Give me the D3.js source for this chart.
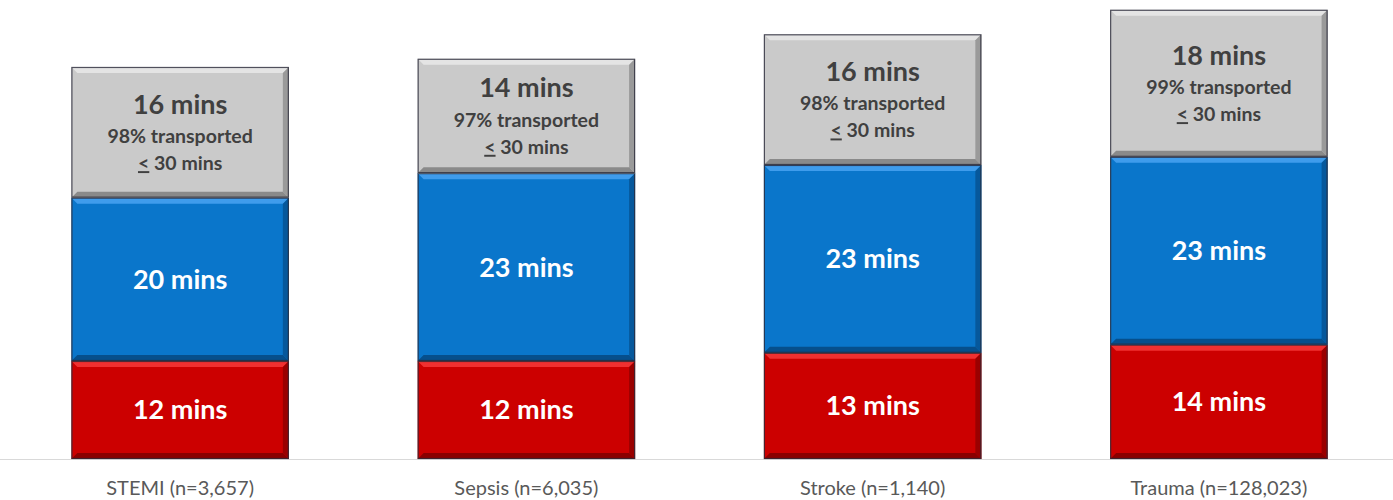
<!DOCTYPE html>
<html>
<head>
<meta charset="utf-8">
<script src="https://cdn.jsdelivr.net/npm/d3@7"></script>
<style>
  body { margin: 0; background: #fff; }
  text { font-family: Lato, "Open Sans", sans-serif; }
</style>
</head>
<body>
<script>
// chart data
var categories = ["STEMI (n=3,657)", "Sepsis (n=6,035)", "Stroke (n=1,140)", "Trauma (n=128,023)"];
var firstLeg = [12, 12, 13, 14];    // red, bottom
var secondLeg = [20, 23, 23, 23];   // blue, middle
var transport = [16, 14, 16, 18];   // gray, top
var pctTransported = ["98%", "97%", "98%", "99%"];

var width = 1393, height = 500, baseline = 459;

var svg = d3.select("body").append("svg")
    .attr("width", width)
    .attr("height", height);

var x = d3.scaleBand()
    .domain(categories)
    .range([7, 1392])
    .paddingInner(0.372)
    .paddingOuter(0.186);

var y = d3.scaleLinear().domain([0, 56.2]).range([baseline, 0]);

var segs = [
  {values: firstLeg, fill: "#cc0000", light: "#f03030", dark: "#8a0000", text: "#fff"},
  {values: secondLeg, fill: "#0a76cb", light: "#3f9cec", dark: "#064f8c", text: "#fff"},
  {values: transport, fill: "#cacaca", light: "#e4e4e4", dark: "#8a8a8a", text: "#404040"}
];

// axis line
svg.append("line")
    .attr("x1", 0).attr("x2", width)
    .attr("y1", baseline + 0.5).attr("y2", baseline + 0.5)
    .style("stroke", "#d9d9d9");

var b = 6; // bevel size

categories.forEach(function(cat, i) {
  var bx = x(cat), w = x.bandwidth();
  var start = 0;
  segs.forEach(function(s, k) {
    var v = s.values[i];
    var y0 = y(start + v), y1 = y(start);
    var h = y1 - y0;
    start += v;
    var g = svg.append("g");
    g.append("rect")
        .attr("x", bx).attr("y", y0)
        .attr("width", w).attr("height", h)
        .style("fill", s.fill);
    // top bevel
    g.append("polygon")
        .attr("points", [[bx, y0], [bx + w, y0], [bx + w - b, y0 + b], [bx + b, y0 + b]].join(" "))
        .style("fill", s.light);
    // right bevel
    g.append("polygon")
        .attr("points", [[bx + w, y0], [bx + w, y1], [bx + w - b, y1 - b], [bx + w - b, y0 + b]].join(" "))
        .style("fill", s.dark).style("opacity", 0.75);
    // bottom bevel
    g.append("polygon")
        .attr("points", [[bx, y1], [bx + w, y1], [bx + w - b, y1 - b], [bx + b, y1 - b]].join(" "))
        .style("fill", s.dark);
    g.append("rect")
        .attr("x", bx + 0.5).attr("y", y0 + 0.5)
        .attr("width", w - 1).attr("height", h - 1)
        .style("fill", "none")
        .style("stroke", "#2a2a3a").style("stroke-width", 1.2).style("stroke-opacity", 0.8);

    var cx = bx + w / 2, cy = (y0 + y1) / 2;
    if (k < 2) {
      svg.append("text")
          .attr("x", cx).attr("y", cy)
          .attr("dy", "0.35em")
          .attr("text-anchor", "middle")
          .style("font-size", "27px").style("font-weight", "bold")
          .style("fill", s.text)
          .text(v + " mins");
    } else {
      svg.append("text")
          .attr("x", cx).attr("y", cy - 28)
          .attr("dy", "0.35em")
          .attr("text-anchor", "middle")
          .style("font-size", "27px").style("font-weight", "bold")
          .style("fill", s.text)
          .text(v + " mins");
      svg.append("text")
          .attr("x", cx).attr("y", cy + 4)
          .attr("dy", "0.35em")
          .attr("text-anchor", "middle")
          .style("font-size", "19.5px").style("font-weight", "bold")
          .style("fill", s.text)
          .text(pctTransported[i] + " transported");
      var t = svg.append("text")
          .attr("x", cx).attr("y", cy + 31)
          .attr("dy", "0.35em")
          .attr("text-anchor", "middle")
          .style("font-size", "19.5px").style("font-weight", "bold")
          .style("fill", s.text);
      t.append("tspan").style("text-decoration", "underline").text("<");
      t.append("tspan").text(" 30 mins");
    }
  });
});

// category labels
svg.selectAll(".cat")
    .data(categories)
    .enter().append("text")
    .attr("class", "cat")
    .attr("x", function(d) { return x(d) + x.bandwidth() / 2; })
    .attr("y", 488)
    .attr("dy", "0.35em")
    .attr("text-anchor", "middle")
    .style("font-size", "20px")
    .style("fill", "#595959")
    .text(function(d) { return d; });
</script>
</body>
</html>
